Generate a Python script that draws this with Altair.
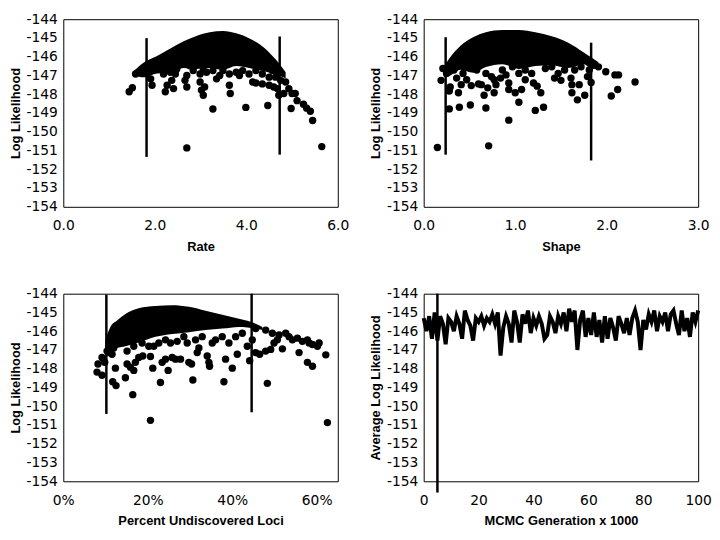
import altair as alt
import pandas as pd

# ---------------- Panel 1: Rate ----------------
rate_x = [1.44, 1.51, 1.58, 1.69, 1.83, 1.91, 1.94, 2.12, 2.23, 2.27, 2.37, 2.41, 2.45, 2.66, 2.70, 2.70,
          2.70, 2.77, 2.99, 3.02, 3.06, 3.06, 3.09, 3.27, 3.35, 3.42, 3.63, 3.65, 3.85, 3.99, 4.14, 4.21,
          4.21, 4.35, 4.47, 4.50, 4.60, 4.64, 4.68, 4.71, 4.75, 4.82, 4.86, 4.93, 4.98, 5.00, 5.07, 5.11,
          5.25, 5.32, 5.40, 5.45, 5.65,
          2.05, 2.19, 2.34, 2.48, 2.84, 2.99, 3.13, 3.27, 3.49, 3.63, 3.78, 3.92, 4.06, 4.35, 4.50, 4.57]
rate_y = [-147.87, -147.65, -146.92, -146.74, -146.92, -147.18, -147.52, -146.57, -147.87, -147.52, -147.26,
          -147.70, -146.92, -147.26, -147.00, -147.61, -150.86, -146.48, -147.35, -147.78, -148.05, -146.74,
          -147.61, -148.79, -147.18, -147.00, -147.52, -147.96, -147.00, -148.70, -147.35, -147.40, -146.74,
          -147.45, -148.60, -147.52, -147.61, -147.09, -147.70, -148.05, -147.26, -147.96, -147.35, -147.70,
          -148.76, -147.96, -147.96, -148.34, -148.53, -148.74, -148.91, -149.40, -150.79,
          -146.48, -146.92, -146.83, -146.66, -146.74, -146.92, -146.83, -146.74, -146.74, -146.92, -146.83,
          -146.74, -146.92, -146.92, -147.09, -146.74]
rate_core_x = [1.55, 1.76, 2.05, 2.34, 2.63, 2.91, 3.20, 3.49, 3.78, 4.06, 4.35, 4.64, 4.86]
rate_core_hi = [-146.74, -146.31, -145.96, -145.56, -145.18, -144.89, -144.69, -144.63, -144.75, -145.01,
                -145.44, -146.14, -146.83]
rate_core_lo = [-147.00, -147.10, -146.90, -146.85, -146.60, -146.65, -146.60, -146.70, -146.50, -146.60,
                -146.75, -146.95, -147.15]
rate_rule_x = [1.82, 4.73]
rate_rule_top = [-145.01, -144.92]
rate_rule_bot = [-151.34, -151.22]

# ---------------- Panel 2: Shape ----------------
shape_x = [0.15, 0.19, 0.21, 0.28, 0.29, 0.28, 0.38, 0.39, 0.41, 0.51, 0.52, 0.60, 0.63, 0.66, 0.68, 0.71,
           0.70, 0.77, 0.77, 0.79, 0.84, 0.93, 0.93, 0.93, 1.00, 1.04, 1.07, 1.11, 1.20, 1.22, 1.24, 1.28,
           1.31, 1.43, 1.50, 1.61, 1.62, 1.62, 1.68, 1.70, 1.76, 1.83, 1.81, 1.86, 1.91, 1.99, 2.05, 2.09,
           2.12, 2.13, 2.31,
           0.25, 0.33, 0.36, 0.43, 0.47, 0.58, 0.68, 0.74, 0.86, 0.90, 0.97, 1.04, 1.11, 1.18, 1.33, 1.40,
           1.47, 1.54, 1.65, 1.72, 1.79]
shape_y = [-150.84, -147.26, -146.63, -147.83, -147.61, -148.78, -147.92, -148.69, -147.49, -148.57, -147.54,
           -147.45, -147.49, -148.05, -148.73, -150.75, -147.66, -147.92, -147.23, -147.49, -147.14, -147.75,
           -149.38, -147.40, -147.92, -148.43, -147.75, -147.23, -147.40, -148.86, -147.57, -147.92, -148.69,
           -147.14, -147.26, -147.14, -147.49, -147.92, -148.30, -147.49, -148.05, -147.37, -146.71, -146.46,
           -146.54, -146.80, -148.09, -146.97, -147.75, -146.97, -147.35,
           -146.89, -146.71, -147.14, -146.89, -147.23, -146.71, -146.89, -147.06, -146.71, -146.97, -146.54,
           -146.89, -146.71, -146.89, -146.63, -146.54, -146.89, -146.71, -146.71, -146.54, -147.06]
shape_core_x = [0.22, 0.29, 0.40, 0.54, 0.68, 0.86, 1.04, 1.22, 1.40, 1.58, 1.75, 1.83, 1.91]
shape_core_hi = [-146.54, -146.03, -145.43, -144.96, -144.69, -144.57, -144.57, -144.69, -144.91, -145.25,
                 -145.77, -146.03, -146.29]
shape_core_lo = [-147.10, -147.00, -146.70, -146.85, -146.55, -146.40, -146.65, -146.50, -146.45, -146.60,
                 -146.40, -146.60, -146.60]
shape_rule_x = [0.24, 1.83]
shape_rule_top = [-144.96, -145.25]
shape_rule_bot = [-151.22, -151.53]

# ---------------- Panel 3: Percent Undiscovered Loci (%) ----------------
loci_x = [7.99, 8.22, 9.17, 9.17, 9.81, 10.36, 11.55, 11.70, 12.34, 12.49, 14.71, 15.10, 15.90, 16.45, 16.69,
          17.08, 17.87, 18.82, 20.64, 20.64, 21.19, 21.43, 23.01, 23.41, 24.20, 24.83, 25.39, 25.78, 26.57,
          27.76, 28.55, 29.73, 30.37, 30.68, 31.71, 32.11, 34.08, 34.48, 34.64, 35.27, 38.04, 38.43, 39.22,
          40.02, 41.20, 43.57, 44.13, 45.55, 46.50, 47.92, 48.32, 49.11, 49.90, 50.69, 51.88, 52.67, 53.46,
          54.25, 55.44, 55.83, 56.62, 57.81, 57.81, 58.21, 59.00, 59.00, 60.18, 60.58, 62.16, 62.55, 45.55,
          47.92, 49.50, 51.09,
          10.76, 11.94, 13.52, 15.10, 16.69, 18.66, 20.25, 22.62, 24.20, 26.97, 29.34, 31.32, 32.90, 36.06,
          37.64, 40.81, 42.39, 44.76]
loci_y = [-148.18, -147.75, -148.35, -147.40, -147.66, -147.06, -147.23, -148.69, -147.97, -148.90, -148.48,
          -147.75, -147.92, -149.38, -148.09, -147.66, -147.40, -147.32, -150.75, -147.35, -147.97, -146.80,
          -148.73, -147.66, -147.49, -148.09, -146.63, -147.40, -147.49, -147.49, -146.29, -147.66, -147.75,
          -148.60, -147.14, -146.89, -147.32, -147.66, -147.87, -146.63, -148.69, -147.49, -146.63, -147.97,
          -147.23, -146.80, -147.57, -147.14, -147.23, -147.06, -148.78, -146.97, -146.63, -146.46, -146.94,
          -146.11, -146.29, -146.46, -146.37, -147.14, -146.54, -146.46, -147.66, -146.63, -146.71, -147.87,
          -146.80, -146.63, -147.26, -150.87, -145.86, -145.94, -146.11, -146.20,
          -147.14, -146.89, -146.63, -147.06, -146.80, -146.63, -146.80, -146.63, -146.46, -146.54, -146.63,
          -146.46, -146.29, -146.46, -146.29, -146.29, -146.11, -146.46]
loci_core_x = [9.96, 11.15, 12.73, 14.71, 17.87, 21.83, 25.78, 29.73, 33.69, 37.64, 41.60, 45.55, 47.13]
loci_core_hi = [-146.46, -145.77, -145.43, -145.08, -144.77, -144.65, -144.62, -144.70, -144.91, -145.12,
                -145.34, -145.60, -145.77]
loci_core_lo = [-147.20, -147.10, -146.90, -146.80, -146.60, -146.30, -146.15, -146.05, -145.94, -145.86,
                -145.77, -145.86, -145.94]
loci_rule_x = [10.2, 44.6]
loci_rule_top = [-144.05, -144.0]
loci_rule_bot = [-150.41, -150.32]

# ---------------- Panel 4: MCMC trace ----------------
gen = list(range(0, 101))
avg_ll = [-145.3, -146.0, -145.2, -146.4, -145.0, -146.5, -145.2, -145.6, -146.7, -145.3,
          -145.5, -146.0, -145.2, -145.6, -146.4, -144.9, -145.4, -145.7, -146.5, -145.3,
          -145.5, -145.2, -145.7, -145.3, -145.5, -145.1, -145.6, -145.0, -147.3, -145.8,
          -145.2, -145.6, -146.6, -144.9, -145.5, -146.6, -145.1, -145.6, -144.9, -146.1,
          -145.3, -145.7, -145.2, -145.6, -146.4, -146.2, -145.2, -145.5, -146.1, -145.2,
          -145.6, -145.0, -146.0, -144.8, -145.5, -144.9, -147.0, -145.4, -144.9, -146.3,
          -145.3, -146.2, -145.0, -146.3, -145.4, -146.6, -145.2, -146.4, -145.3, -145.8,
          -146.5, -145.2, -145.6, -146.1, -145.3, -146.2, -145.3, -144.9, -145.5, -147.0,
          -145.4, -145.9, -145.1, -145.5, -144.9, -146.0, -145.2, -145.5, -145.0, -146.0,
          -145.1, -144.9, -145.6, -146.2, -144.9, -146.0, -145.3, -146.3, -145.0, -145.5,
          -144.9]
burn_x = [5.0]
burn_top = [-144.0]
burn_bot = [-154.6]

y_ticks = list(range(-154, -143))
W, H = 278, 190

y_scale = alt.Scale(domain=[-154, -144], nice=False, zero=False)


def y_axis(title):
    return alt.Axis(title=title, values=y_ticks, labelExpr="'-' + format(-datum.value, 'd')")


def scatter_panel(px, py, cx, chi, clo, rx, rtop, rbot, xdom, xvals, xfmt, xtitle, scale_x=1.0):
    pts = pd.DataFrame({"x": [v * scale_x for v in px], "y": py})
    core = pd.DataFrame({"x": [v * scale_x for v in cx], "hi": chi, "lo": clo})
    rules = pd.DataFrame({"x": [v * scale_x for v in rx], "top": rtop, "bot": rbot})
    xs = alt.Scale(domain=xdom, nice=False, zero=False)
    xa = alt.Axis(title=xtitle, values=xvals, format=xfmt)
    area = alt.Chart(core).mark_area(color="black", interpolate="monotone").encode(
        x=alt.X("x:Q", scale=xs, axis=xa),
        y=alt.Y("hi:Q", scale=y_scale, axis=y_axis("Log Likelihood")),
        y2="lo:Q",
    )
    dots = alt.Chart(pts).mark_circle(color="black", opacity=1, size=56).encode(
        x=alt.X("x:Q", scale=xs, axis=xa),
        y=alt.Y("y:Q", scale=y_scale, axis=y_axis("Log Likelihood")),
    )
    rl = alt.Chart(rules).mark_rule(color="black", strokeWidth=2.5).encode(
        x=alt.X("x:Q", scale=xs, axis=xa),
        y=alt.Y("top:Q", scale=y_scale, axis=y_axis("Log Likelihood")),
        y2="bot:Q",
    )
    return alt.layer(area, dots, rl).properties(width=W, height=H)


p1 = scatter_panel(rate_x, rate_y, rate_core_x, rate_core_hi, rate_core_lo, rate_rule_x, rate_rule_top,
                   rate_rule_bot, [0, 6], [0, 2, 4, 6], ".1f", "Rate")
p2 = scatter_panel(shape_x, shape_y, shape_core_x, shape_core_hi, shape_core_lo, shape_rule_x, shape_rule_top,
                   shape_rule_bot, [0, 3], [0, 1, 2, 3], ".1f", "Shape")
p3 = scatter_panel(loci_x, loci_y, loci_core_x, loci_core_hi, loci_core_lo, loci_rule_x, loci_rule_top,
                   loci_rule_bot, [0, 0.65], [0, 0.2, 0.4, 0.6], ".0%", "Percent Undiscovered Loci",
                   scale_x=0.01)

trace = pd.DataFrame({"g": gen, "ll": avg_ll})
burn = pd.DataFrame({"x": burn_x, "top": burn_top, "bot": burn_bot})
xs4 = alt.Scale(domain=[0, 100], nice=False)
xa4 = alt.Axis(title="MCMC Generation x 1000", values=[0, 20, 40, 60, 80, 100], format="d")
line = alt.Chart(trace).mark_line(color="black", strokeWidth=4, strokeJoin="miter").encode(
    x=alt.X("g:Q", scale=xs4, axis=xa4),
    y=alt.Y("ll:Q", scale=y_scale, axis=y_axis("Average Log Likelihood")),
)
brule = alt.Chart(burn).mark_rule(color="black", strokeWidth=2.5, clip=False).encode(
    x=alt.X("x:Q", scale=xs4, axis=xa4),
    y=alt.Y("top:Q", scale=y_scale, axis=y_axis("Average Log Likelihood")),
    y2="bot:Q",
)
p4 = alt.layer(line, brule).properties(width=W, height=H)

chart = alt.concat(p1, p2, p3, p4, columns=2, bounds="flush",
                   spacing={"row": 88, "column": 87}).properties(
    padding={"left": 0, "top": 0, "right": 0, "bottom": 0},
    background="white",
).configure_view(
    stroke="black", strokeWidth=1
).configure_axis(
    grid=False, ticks=False, domain=False, labelFlush=False,
    labelFont="DejaVu Sans", labelFontSize=14, labelColor="black",
    titleFont="Liberation Sans", titleFontSize=13, titleFontWeight="bold", titleColor="black",
).configure_axisX(
    labelPadding=12, titlePadding=8
).configure_axisY(
    labelPadding=6, titlePadding=4
)

chart.save("out.html", embed_options={"renderer": "svg", "actions": False})
